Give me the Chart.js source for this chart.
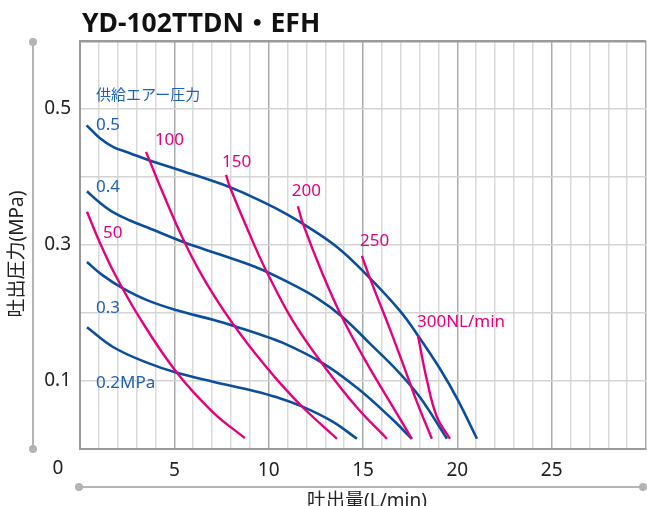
<!DOCTYPE html>
<html>
<head>
<meta charset="utf-8">
<script src="https://cdn.jsdelivr.net/npm/chart.js@4/dist/chart.umd.min.js"></script>
<style>
  html, body { margin: 0; padding: 0; background: #fff; }
  #wrap { width: 647px; height: 506px; position: relative; overflow: hidden; }
</style>
</head>
<body>
<div id="wrap"><canvas id="chart"></canvas></div>
<script>
// air supply pressure curves (MPa) - flow L/min vs discharge pressure MPa
var p05 = [[0.35,0.476],[1.06,0.457],[1.77,0.444],[2.65,0.435],[3.62,0.425],[5.3,0.41],[7.95,0.385],[9.27,0.369],[10.44,0.353],[11.82,0.331],[13.62,0.297],[15.3,0.253],[16.96,0.203],[17.91,0.167],[19.08,0.118],[20.03,0.072],[21.04,0.015]];
var p04 = [[0.37,0.379],[1.06,0.362],[1.77,0.348],[2.65,0.336],[3.55,0.326],[5.51,0.304],[7.42,0.286],[9.27,0.268],[10.76,0.249],[12.56,0.222],[13.88,0.195],[15.37,0.155],[16.96,0.111],[18.02,0.076],[19.45,0.015]];
var p03 = [[0.37,0.275],[1.17,0.256],[2.23,0.237],[3.55,0.219],[5.14,0.204],[7.05,0.19],[8.37,0.179],[9.27,0.171],[10.76,0.156],[12.88,0.126],[14.68,0.09],[16.43,0.047],[17.59,0.015]];
var p02 = [[0.37,0.179],[1.75,0.15],[3.55,0.127],[5.14,0.112],[7.05,0.099],[9.27,0.085],[10.44,0.076],[11.82,0.062],[13.41,0.04],[14.68,0.015]];

// air consumption curves (NL/min)
var q50  = [[0.37,0.349],[1.06,0.303],[1.85,0.257],[3.18,0.192],[5.14,0.112],[7.05,0.054],[8.74,0.016]];
var q100 = [[3.5,0.437],[4.4,0.376],[5.51,0.306],[6.47,0.255],[7.42,0.212],[8.37,0.174],[9.27,0.141],[10.44,0.102],[11.82,0.061],[13.62,0.015]];
var q150 = [[7.74,0.403],[7.95,0.385],[9.27,0.298],[9.96,0.257],[11.29,0.188],[12.88,0.124],[14.68,0.061],[16.27,0.015]];
var q200 = [[11.55,0.357],[11.82,0.331],[12.88,0.256],[13.88,0.194],[15.21,0.126],[16.43,0.069],[17.59,0.015]];
var q250 = [[14.94,0.284],[15.37,0.251],[16.43,0.176],[16.96,0.137],[17.33,0.109],[17.86,0.069],[18.65,0.015]];
var q300 = [[17.91,0.167],[18.39,0.101],[18.92,0.047],[19.61,0.015]];

var pressureSeries = [p05, p04, p03, p02];
var airSeries = [q50, q100, q150, q200, q250, q300];

var xLabels = [5, 10, 15, 20, 25];
var yLabels = [0.1, 0.3, 0.5];

// curve labels, anchored in data coordinates
var pressureLabels = [['供給エアー圧力',0.85,0.519],['0.5',0.85,0.476],['0.4',0.85,0.385],['0.3',0.85,0.207],['0.2MPa',0.85,0.097]];
var airLabels = [['50',1.22,0.318],['100',3.97,0.454],['150',7.53,0.422],['200',11.23,0.379],['250',14.84,0.306],['300NL/min',17.86,0.187]];

var BLUE = '#0b4f9c';
var LABEL_BLUE = '#1d62b4';
var PINK = '#e4007f';
var FONT = '"Noto Sans", "Noto Sans CJK JP", sans-serif';

function toXY(arr) {
    return arr.map(function(p) { return {x: p[0], y: p[1]}; });
}

var datasets = [];
airSeries.forEach(function(s) {
    datasets.push({data: toXY(s), borderColor: PINK, borderWidth: 2.4, showLine: true, pointRadius: 0, tension: 0.4});
});
pressureSeries.forEach(function(s) {
    datasets.push({data: toXY(s), borderColor: BLUE, borderWidth: 2.6, showLine: true, pointRadius: 0, tension: 0.4});
});

// extra drawing: title, axis decorations, curve labels
var decor = {
    id: 'decor',
    afterDraw: function(chart) {
        var c = chart.ctx, xs = chart.scales.x, ys = chart.scales.y;
        c.save();
        // title
        c.fillStyle = '#111';
        c.font = 'bold 26.5px ' + FONT;
        c.textBaseline = 'middle';
        c.textAlign = 'left';
        c.fillText('YD-102TTDN・EFH', 82, 24);

        // axis decoration lines with dots
        c.strokeStyle = '#b4b4b4';
        c.fillStyle = '#b4b4b4';
        c.lineWidth = 2;
        c.beginPath(); c.moveTo(33, 42); c.lineTo(33, 449); c.stroke();
        c.beginPath(); c.moveTo(79, 487); c.lineTo(643, 487); c.stroke();
        [[33,42],[33,449],[79,487],[643,487]].forEach(function(d) {
            c.beginPath(); c.arc(d[0], d[1], 4, 0, Math.PI * 2); c.fill();
        });

        // axis titles
        c.fillStyle = '#222';
        c.font = '19px ' + FONT;
        c.textAlign = 'center';
        c.textBaseline = 'top';
        c.fillText('吐出量(L/min)', 367, 492);
        c.save();
        c.translate(18, 254);
        c.rotate(-Math.PI / 2);
        c.textBaseline = 'middle';
        c.fillText('吐出圧力(MPa)', 0, 0);
        c.restore();

        // origin label
        c.font = '19px ' + FONT;
        c.textBaseline = 'middle';
        c.fillText('0', 58, 469);

        // curve labels
        c.textAlign = 'left';
        c.fillStyle = LABEL_BLUE;
        pressureLabels.forEach(function(l, i) {
            c.font = (i === 0 ? '15px ' : '17px ') + FONT;
            c.fillText(l[0], xs.getPixelForValue(l[1]), ys.getPixelForValue(l[2]));
        });
        c.fillStyle = PINK;
        c.font = '17px ' + FONT;
        airLabels.forEach(function(l) {
            c.fillText(l[0], xs.getPixelForValue(l[1]), ys.getPixelForValue(l[2]));
        });
        c.restore();
    }
};

var ctx = document.getElementById('chart').getContext('2d');
var myChart = new Chart(ctx, {
    type: 'scatter',
    data: { datasets: datasets },
    options: {
        responsive: true,
        maintainAspectRatio: false,
        animation: false,
        layout: { padding: { top: 41, right: 1, left: 0, bottom: 0 } },
        scales: {
            x: {
                type: 'linear',
                min: 0,
                max: 30,
                afterFit: function(scale) {
                    scale.height = 57;
                    scale.paddingLeft = 0;
                    scale.paddingRight = 0;
                },
                afterBuildTicks: function(scale) {
                    var t = [];
                    for (var i = 0; i <= 30; i++) t.push({value: i});
                    scale.ticks = t;
                },
                border: { color: '#9a9a9a', width: 2 },
                grid: {
                    drawTicks: false,
                    lineWidth: 1.5,
                    color: function(c) {
                        var v = c.tick ? c.tick.value : 0;
                        return v % 5 === 0 ? '#ababab' : '#dadada';
                    }
                },
                ticks: {
                    padding: 10,
                    autoSkip: false,
                    maxRotation: 0,
                    color: '#222',
                    font: { size: 19, family: FONT },
                    callback: function(v) { return xLabels.indexOf(v) >= 0 ? String(v) : ''; }
                }
            },
            y: {
                type: 'linear',
                min: 0,
                max: 0.6,
                afterFit: function(scale) {
                    scale.width = 80;
                    scale.paddingTop = 0;
                    scale.paddingBottom = 0;
                },
                afterBuildTicks: function(scale) {
                    var t = [];
                    for (var i = 0; i <= 6; i++) t.push({value: i / 10});
                    scale.ticks = t;
                },
                border: { color: '#9a9a9a', width: 2 },
                grid: {
                    drawTicks: false,
                    lineWidth: function(c) { return c.index === 6 ? 2.5 : 1.5; },
                    color: function(c) { return c.index === 6 ? '#9a9a9a' : '#d4d4d4'; }
                },
                ticks: {
                    padding: 9,
                    color: '#222',
                    font: { size: 19, family: FONT },
                    callback: function(v) {
                        var r = Math.round(v * 10) / 10;
                        return yLabels.indexOf(r) >= 0 ? r.toFixed(1) : '';
                    }
                }
            }
        },
        plugins: {
            legend: { display: false },
            tooltip: { enabled: false }
        }
    },
    plugins: [decor]
});
</script>
</body>
</html>
